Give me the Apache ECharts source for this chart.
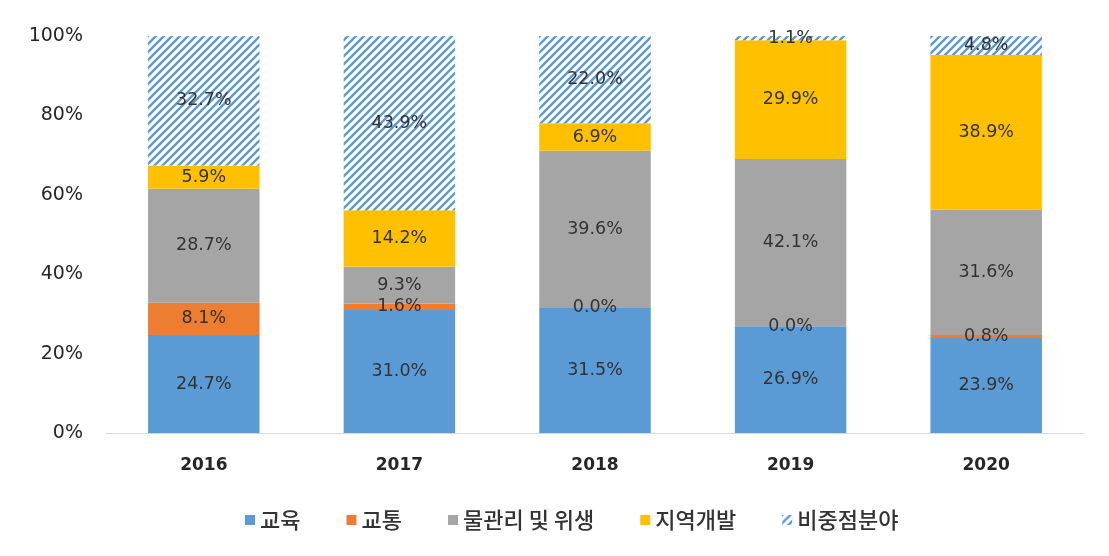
<!DOCTYPE html>
<html>
<head>
<meta charset="utf-8">
<script src="https://cdn.jsdelivr.net/npm/echarts@6/dist/echarts.min.js"></script>
<style>
  html, body { margin: 0; padding: 0; background: #fff; }
  #chart { width: 1109px; height: 556px; }
</style>
</head>
<body>
<div id="chart"></div>
<script>
// Share of funding by sector, per year (%)
const years = ['2016', '2017', '2018', '2019', '2020'];
const education = [24.7, 31.0, 31.5, 26.9, 23.9];
const transport = [8.1, 1.6, 0.0, 0.0, 0.8];
const waterSanitation = [28.7, 9.3, 39.6, 42.1, 31.6];
const regionalDev = [5.9, 14.2, 6.9, 29.9, 38.9];
const nonPriority = [32.7, 43.9, 22.0, 1.1, 4.8];
const yTicks = [0, 20, 40, 60, 80, 100];

// Diagonal stripe fill for the non-priority sector
function stripePattern() {
  const c = document.createElement('canvas');
  const s = 8;
  c.width = s; c.height = s;
  const ctx = c.getContext('2d');
  ctx.fillStyle = '#ffffff';
  ctx.fillRect(0, 0, s, s);
  ctx.strokeStyle = '#5b9bd5';
  ctx.lineWidth = 2.4;
  ctx.beginPath();
  ctx.moveTo(-2, s + 2); ctx.lineTo(s + 2, -2);
  ctx.moveTo(-2, 2); ctx.lineTo(2, -2);
  ctx.moveTo(s - 2, s + 2); ctx.lineTo(s + 2, s - 2);
  ctx.stroke();
  return { image: c, repeat: 'repeat' };
}

const numFont = '"DejaVu Sans", "Noto Sans", sans-serif';
const krFont = '"Noto Sans CJK KR", "Noto Sans", sans-serif';
const labelStyle = {
  show: true,
  position: 'inside',
  color: '#333333',
  fontSize: 17.5,
  fontFamily: numFont,
  formatter: p => p.value.toFixed(1) + '%'
};

function makeSeries(name, data, color) {
  return {
    name: name,
    type: 'bar',
    stack: 'total',
    barWidth: '57%',
    data: data,
    itemStyle: { color: color },
    label: labelStyle,
    emphasis: { disabled: true }
  };
}

const chart = echarts.init(document.getElementById('chart'));
chart.setOption({
  animation: false,
  grid: { left: 106, right: 25, top: 36, bottom: 123 },
  legend: {
    top: 504,
    left: 240,
    icon: 'rect',
    itemWidth: 10,
    itemHeight: 10,
    itemGap: 46,
    textStyle: { fontSize: 22, color: '#333333', fontWeight: 500, fontFamily: krFont }
  },
  xAxis: {
    type: 'category',
    data: years,
    axisTick: { show: false },
    axisLine: { lineStyle: { color: '#d9d9d9', width: 1 } },
    axisLabel: { fontSize: 17, fontWeight: 'bold', color: '#262626', margin: 24, fontFamily: numFont }
  },
  yAxis: {
    type: 'value',
    min: yTicks[0],
    max: yTicks[yTicks.length - 1],
    interval: 20,
    axisLine: { show: false },
    axisTick: { show: false },
    splitLine: { show: false },
    axisLabel: {
      fontSize: 19, color: '#262626', margin: 23, fontFamily: numFont,
      formatter: v => v + '%'
    }
  },
  series: [
    makeSeries('교육', education, '#5b9bd5'),
    makeSeries('교통', transport, '#ed7d31'),
    makeSeries('물관리 및 위생', waterSanitation, '#a5a5a5'),
    makeSeries('지역개발', regionalDev, '#ffc000'),
    makeSeries('비중점분야', nonPriority, stripePattern())
  ]
});
</script>
</body>
</html>
